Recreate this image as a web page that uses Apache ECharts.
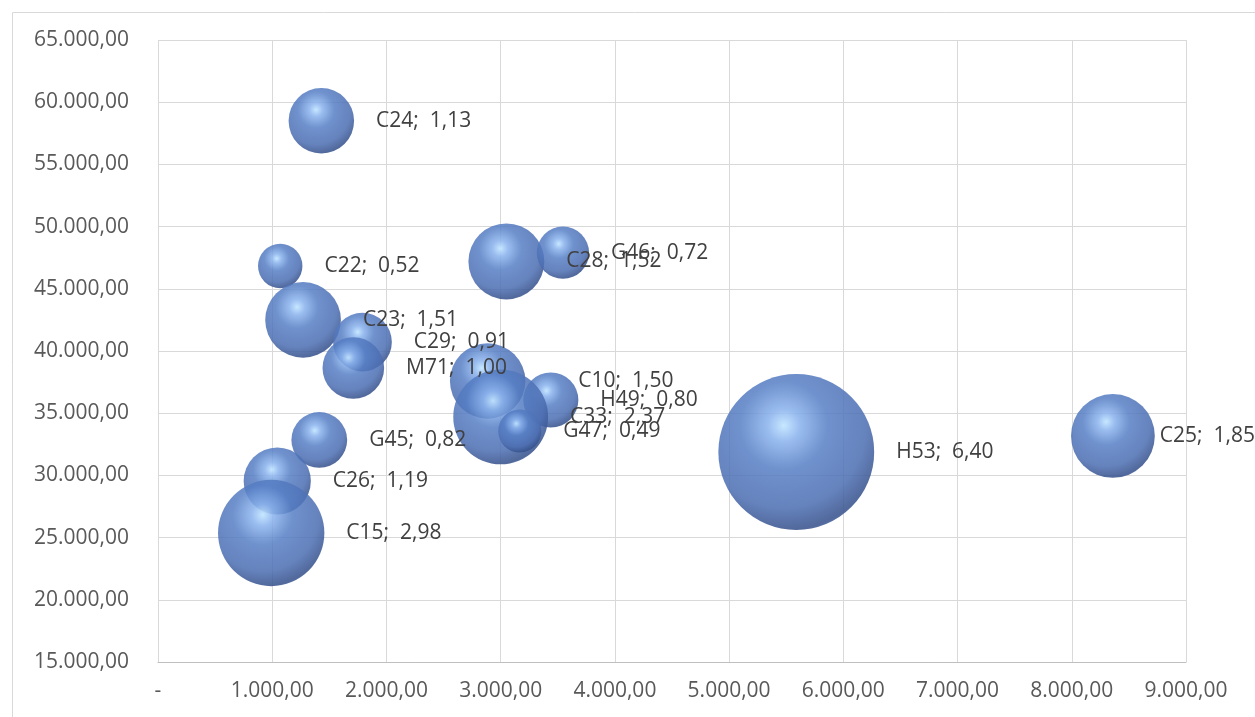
<!DOCTYPE html>
<html>
<head>
<meta charset="utf-8">
<script src="https://cdn.jsdelivr.net/npm/echarts@6/dist/echarts.min.js"></script>
<style>
html,body{margin:0;padding:0;background:#fff;}
#chart{width:1255px;height:717px;}
</style>
</head>
<body>
<div id="chart"></div>
<script>
const names   = ['C24','C22','C28','G46','C23','C29','M71','C10','H49','C33','G47','G45','C26','C15','H53','C25'];
const xValues = [1430,1070,3050,3545,1270,1790,1710,2886,3439,3000,3167,1412,1044,991,5588,8360];
const yValues = [58500,46830,47200,47900,42500,40720,38630,37590,36060,34700,33570,32850,29550,25370,31880,33170];
const sizes   = [1.13,0.52,1.52,0.72,1.51,0.91,1.00,1.50,0.80,2.37,0.49,0.82,1.19,2.98,6.40,1.85];

const FONT = 'Open Sans';
const FS = 21;
function fmt(v){
  const s = Math.abs(v).toFixed(2).split('.');
  const int = s[0].replace(/\B(?=(\d{3})+(?!\d))/g, '.');
  return int + ',' + s[1];
}
const labelDist = {C10: 53, C25: 5};
const sphere = {
  type: 'radial', x: 0.42, y: 0.33, r: 0.78,
  colorStops: [
    {offset: 0, color: 'rgba(195,230,255,0.92)'},
    {offset: 0.13, color: 'rgba(140,180,238,0.87)'},
    {offset: 0.36, color: 'rgba(86,126,196,0.85)'},
    {offset: 0.68, color: 'rgba(76,110,178,0.86)'},
    {offset: 0.86, color: 'rgba(55,82,140,0.87)'},
    {offset: 1, color: 'rgba(95,130,205,0.86)'}
  ]
};
const data = names.map((n, i) => ({
  name: n,
  value: [xValues[i], yValues[i], sizes[i]],
  label: {distance: labelDist[n] !== undefined ? labelDist[n] : 22}
}));

const chart = echarts.init(document.getElementById('chart'), null, {renderer: 'canvas'});
chart.setOption({
  animation: false,
  backgroundColor: '#fff',
  graphic: [{
    type: 'rect', left: 10, top: 10, z: -10,
    shape: {x: 0, y: 0, width: 1300, height: 760},
    style: {fill: 'none', stroke: '#d9d9d9', lineWidth: 1}
  }],
  grid: {left: 158, right: 69, top: 40, bottom: 55, containLabel: false},
  xAxis: {
    type: 'value', min: 0, max: 9000, interval: 1000,
    axisLine: {show: true, onZero: false, lineStyle: {color: '#bfbfbf', width: 1}},
    axisTick: {show: false},
    splitLine: {show: true, lineStyle: {color: '#d9d9d9', width: 1}},
    axisLabel: {
      margin: 19, color: '#595959', fontFamily: FONT, fontSize: FS,
      formatter: v => v === 0 ? '-' : fmt(v)
    }
  },
  yAxis: {
    type: 'value', min: 15000, max: 65000, interval: 5000,
    axisLine: {show: false},
    axisTick: {show: false},
    splitLine: {show: true, lineStyle: {color: '#d9d9d9', width: 1}},
    axisLabel: {
      margin: 29, color: '#595959', fontFamily: FONT, fontSize: FS,
      formatter: v => fmt(v)
    }
  },
  series: [{
    type: 'scatter',
    data: data,
    symbolSize: d => 61.6 * Math.sqrt(d[2]),
    itemStyle: {color: sphere, opacity: 1},
    label: {
      show: true, position: 'right',
      color: '#404040', fontFamily: FONT, fontSize: FS,
      formatter: p => p.name + ';  ' + p.value[2].toFixed(2).replace('.', ',')
    },
    emphasis: {disabled: true}
  }]
});
</script>
</body>
</html>
